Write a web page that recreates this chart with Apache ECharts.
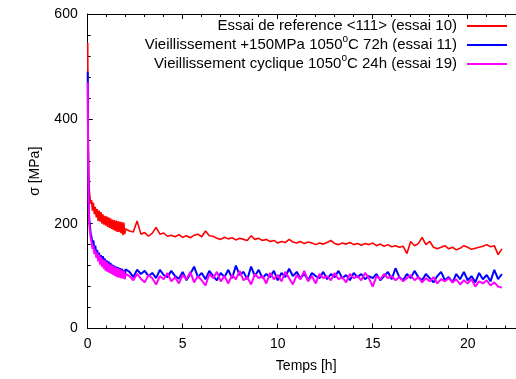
<!DOCTYPE html>
<html>
<head>
<meta charset="utf-8">
<script src="https://cdn.jsdelivr.net/npm/echarts@6/dist/echarts.min.js"></script>
<style>
  html, body { margin: 0; padding: 0; background: #fff; }
  #chart { width: 516px; height: 379px; }
</style>
</head>
<body>
<div id="chart"></div>
<script>
// temps [h]
var timeEarly = [0, 0.02, 0.05, 0.08, 0.12, 0.16, 0.2, 0.25, 0.3, 0.35, 0.4, 0.45, 0.5, 0.55, 0.6, 0.65, 0.7, 0.75, 0.8, 0.85,
  0.9, 0.95, 1, 1.05, 1.1, 1.15, 1.2, 1.25, 1.3, 1.35, 1.4, 1.45, 1.5, 1.55, 1.6, 1.65, 1.7, 1.75, 1.8, 1.85, 1.9, 1.95, 2];
var timeLate = [2.2, 2.4, 2.6, 2.8, 3, 3.2, 3.4, 3.6, 3.8, 4, 4.2, 4.4, 4.6, 4.8, 5, 5.2, 5.4, 5.6, 5.8, 6,
  6.2, 6.4, 6.6, 6.8, 7, 7.2, 7.4, 7.6, 7.8, 8, 8.2, 8.4, 8.6, 8.8, 9, 9.2, 9.4, 9.6, 9.8, 10,
  10.2, 10.4, 10.6, 10.8, 11, 11.2, 11.4, 11.6, 11.8, 12, 12.2, 12.4, 12.6, 12.8, 13, 13.2, 13.4, 13.6, 13.8, 14,
  14.2, 14.4, 14.6, 14.8, 15, 15.2, 15.4, 15.6, 15.8, 16, 16.2, 16.4, 16.6, 16.8, 17, 17.2, 17.4, 17.6, 17.8, 18,
  18.2, 18.4, 18.6, 18.8, 19, 19.2, 19.4, 19.6, 19.8, 20, 20.2, 20.4, 20.6, 20.8, 21, 21.2, 21.4, 21.6, 21.8];

// sigma [MPa]
var refEarly = [545, 400, 300, 265, 250, 238, 245, 225, 240, 218, 232, 212, 228, 205, 225, 204, 222, 200, 218, 198,
  215, 196, 214, 194, 212, 192, 210, 190, 208, 188, 207, 186, 206, 184, 205, 184, 204, 182, 203, 178, 202, 180, 190];
var refLate = [186, 184, 205, 180, 183, 176, 182, 193, 180, 182,
  176, 178, 175, 179, 174, 177, 173, 178, 180, 175,
  186, 177, 176, 172, 170, 174, 171, 173, 169, 172,
  170, 168, 177, 170, 172, 168, 170, 166, 168, 163,
  166, 164, 170, 165, 163, 166, 162, 165, 163, 160,
  163, 161, 164, 168, 162, 160, 163, 161, 164, 160,
  162, 159, 162, 160, 163, 158, 161, 157, 160, 156,
  158, 155, 157, 143, 166, 158, 162, 174, 160, 166,
  155, 152, 155, 158, 152, 155, 150, 153, 158, 155,
  151, 153, 155, 157, 160, 156, 158, 141, 152];

var agedEarly = [490, 350, 250, 210, 195, 180, 175, 160, 168, 150, 158, 142, 150, 132, 145, 128, 140, 122, 138, 118,
  134, 112, 130, 115, 128, 108, 125, 112, 122, 104, 120, 108, 118, 102, 117, 106, 115, 98, 114, 104, 112, 100, 113];
var agedLate = [108, 98, 112, 104, 110, 100, 106, 96, 112, 102,
  98, 110, 100, 95, 108, 92, 104, 118, 98, 106,
  94, 110, 100, 92, 106, 98, 112, 96, 120, 102,
  108, 94, 118, 100, 112, 96, 104, 98, 110, 92,
  106, 98, 114, 100, 108, 96, 104, 92, 106, 100,
  96, 108, 94, 104, 98, 110, 96, 102, 92, 106,
  98, 104, 94, 100, 96, 104, 92, 100, 108, 94,
  115, 98, 92, 104, 96, 110, 98, 92, 104, 96,
  88, 100, 108, 92, 98, 88, 104, 94, 108, 92,
  100, 88, 106, 94, 102, 90, 112, 94, 104];

var cyclicEarly = [470, 330, 240, 200, 185, 172, 165, 152, 158, 142, 150, 135, 145, 128, 140, 122, 136, 118, 132, 114,
  130, 110, 127, 108, 124, 106, 122, 104, 120, 102, 118, 100, 116, 98, 115, 97, 113, 96, 112, 95, 110, 94, 104];
var cyclicLate = [100, 92, 104, 95, 88, 102, 96, 84, 100, 94,
  106, 90, 98, 86, 102, 94, 108, 88, 100, 92,
  82, 104, 96, 108, 90, 100, 86, 102, 94, 110,
  92, 98, 84, 104, 96, 100, 86, 106, 94, 102,
  90, 108, 96, 84, 102, 94, 110, 90, 100, 86,
  104, 96, 100, 92, 106, 94, 98, 88, 104, 96,
  100, 92, 106, 96, 80, 100, 94, 104, 96, 100,
  92, 98, 90, 96, 102, 92, 98, 88, 96, 90,
  98, 86, 94, 90, 96, 88, 94, 84, 92, 86,
  94, 80, 90, 86, 92, 82, 88, 80, 78];

var seriesNames = [
  'Essai de reference <111> (essai 10)',
  'Vieillissement +150MPa 1050°C 72h (essai 11)',
  'Vieillissement cyclique 1050°C 24h (essai 19)'
];
var seriesColors = ['#ff0000', '#0000ff', '#ff00ff'];

var FONT = 'Liberation Sans, Arial, Helvetica, sans-serif';

function pairs(ts, vs) {
  var out = [];
  for (var i = 0; i < ts.length; i++) out.push([ts[i], vs[i]]);
  return out;
}

var allTime = timeEarly.concat(timeLate);
var seriesData = [
  pairs(allTime, refEarly.concat(refLate)),
  pairs(allTime, agedEarly.concat(agedLate)),
  pairs(allTime, cyclicEarly.concat(cyclicLate))
];

function xAxisBase(pos) {
  return {
    type: 'value', position: pos, min: 0, max: 23, interval: 5,
    axisLine: {show: true, onZero: false, lineStyle: {color: '#000', width: 1}},
    axisTick: {show: true, inside: true, length: 5, lineStyle: {color: '#000'}},
    minorTick: {show: true, splitNumber: 5, length: 3, lineStyle: {color: '#000'}},
    splitLine: {show: false},
    axisLabel: {
      show: pos === 'bottom', showMaxLabel: false,
      color: '#000', fontSize: 14, fontFamily: FONT, margin: 9
    }
  };
}

var chart = echarts.init(document.getElementById('chart'), null, {renderer: 'canvas'});
var option = {
  animation: false,
  textStyle: {fontFamily: FONT},
  // the frame runs past the right edge of the picture, as in the original
  grid: {left: 87.7, top: 14, width: 437, height: 314.5, containLabel: false, outerBoundsMode: 'none'},
  legend: {
    orient: 'vertical', align: 'right', right: 9, top: 18, padding: 0,
    itemWidth: 40, itemHeight: 2, itemGap: 0, icon: 'rect',
    data: seriesNames,
    formatter: function (name) { return name.replace('°', '{sup|o}'); },
    textStyle: {
      fontFamily: FONT, fontSize: 15, color: '#000', lineHeight: 16, padding: [0, 5, 0, 0],
      rich: {sup: {fontSize: 10, lineHeight: 16, verticalAlign: 'top', fontFamily: FONT, color: '#000', padding: [-3, 0, 0, 0]}}
    }
  },
  xAxis: [
    Object.assign(xAxisBase('bottom'), {
      name: 'Temps [h]', nameLocation: 'middle', nameGap: 31,
      nameTextStyle: {color: '#000', fontSize: 14, fontFamily: FONT}
    }),
    xAxisBase('top')
  ],
  yAxis: {
    type: 'value', min: 0, max: 600, interval: 200,
    name: 'σ [MPa]', nameLocation: 'middle', nameGap: 46,
    nameTextStyle: {color: '#000', fontSize: 14, fontFamily: FONT},
    axisLine: {show: true, lineStyle: {color: '#000', width: 1}},
    axisTick: {show: true, inside: true, length: 5, lineStyle: {color: '#000'}},
    minorTick: {show: true, splitNumber: 5, length: 3, lineStyle: {color: '#000'}},
    splitLine: {show: false},
    axisLabel: {color: '#000', fontSize: 14, fontFamily: FONT, margin: 10}
  },
  series: seriesNames.map(function (name, i) {
    return {
      name: name, type: 'line', xAxisIndex: 0, data: seriesData[i],
      showSymbol: false, symbol: 'none', sampling: null,
      color: seriesColors[i],
      lineStyle: {color: seriesColors[i], width: i === 0 ? 1.6 : 2},
      z: 2 + i
    };
  })
};
chart.setOption(option);
</script>
</body>
</html>
